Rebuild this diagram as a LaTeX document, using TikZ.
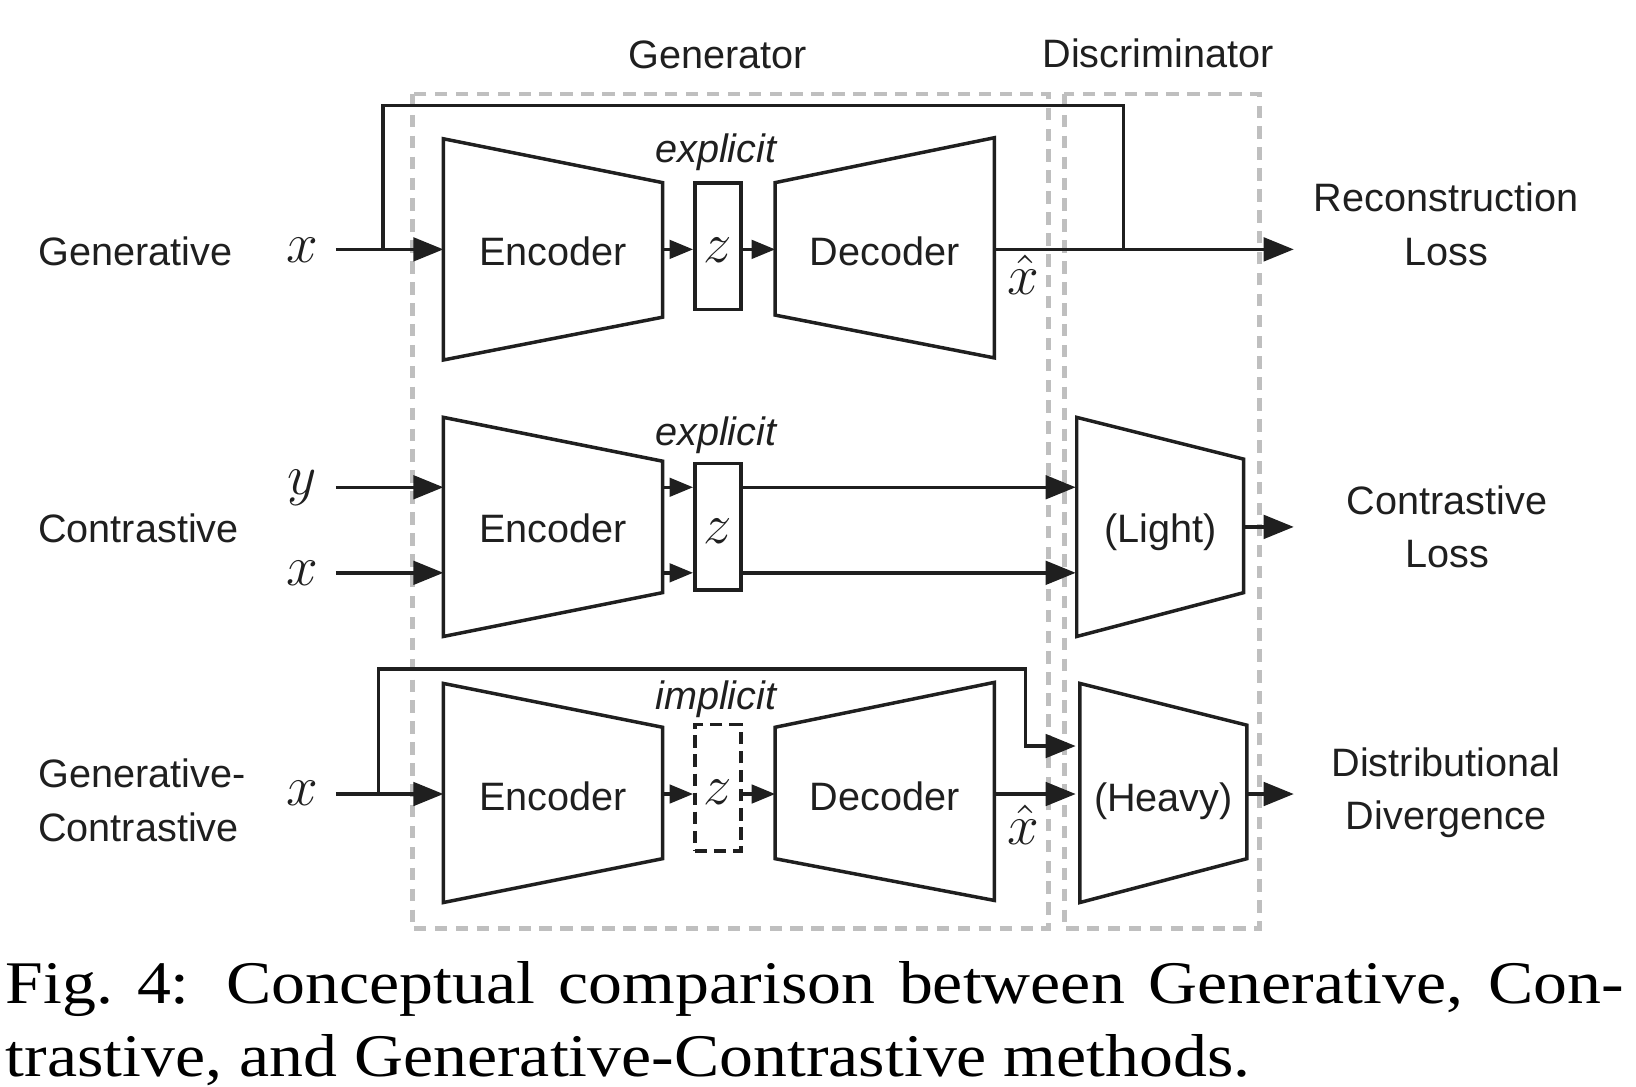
\RequirePackage{fix-cm}
\documentclass[tikz,border=0pt]{standalone}
\usepackage{fontspec}
\setmainfont{Liberation Sans}
\newfontfamily\capfont[FakeStretch=1.12]{Liberation Serif}
\usetikzlibrary{arrows.meta}
\begin{document}
\begin{tikzpicture}[x=0.01cm,y=-0.01cm,
  ln/.style={line width=0.95pt, draw=black!88, line join=miter},
  arr/.style={ln, -{Triangle[length=8.2pt,width=6.4pt]}},
  sarr/.style={ln, -{Triangle[length=6.4pt,width=5pt]}},
  grp/.style={draw=black!25, line width=1.3pt, dash pattern=on 3.4pt off 2.3pt},
  txt/.style={inner sep=0pt, text=black!88, font=\fontsize{10.8}{14.5}\selectfont},
  itx/.style={inner sep=0pt, text=black!88, font=\fontsize{10.8}{14.5}\selectfont\itshape},
  mth/.style={inner sep=0pt, text=black!88, font=\fontsize{15.5}{18}\selectfont},
  zbox/.style={ln, minimum width=0.44cm, minimum height=1.21cm, inner sep=0pt,
    text height=9pt, text depth=0pt, text=black!88, font=\fontsize{15.5}{18}\selectfont},
  zdash/.style={zbox, dash pattern=on 3.4pt off 1.8pt},
]
\useasboundingbox (0,0) rectangle (1568,1041);

% group frames
\draw[grp] (395,90) rectangle (1005,890);
\draw[grp] (1020,90) rectangle (1207,890);
\node[txt, anchor=base] (tgen) at (688,66) {Generator};
\node[txt, anchor=base] (tdis) at (1110,65) {Discriminator};

% ---------- Row 1: Generative ----------
\node[txt, anchor=base west] (r1) at (36,254) {Generative};
\node[mth, anchor=base] (x1) at (290,252) {$x$};
\coordinate (s1) at (322,239);
\coordinate (j1) at (367,239);
\coordinate (e1i) at (425,239);
\coordinate (e1o) at (635,239);
\draw[ln] (425,133) -- (635,175) -- (635,304) -- (425,345) -- cycle;
\node[txt, anchor=base] (enc1) at (530,254) {Encoder};
\node[zbox, draw] (z1) at (688,236) {$z$};
\node[itx, anchor=base] (ex1) at (686,156) {explicit};
\coordinate (d1i) at (743,239);
\coordinate (d1o) at (953,239);
\draw[ln] (743,175) -- (953,132) -- (953,343) -- (743,302) -- cycle;
\node[txt, anchor=base] (dec1) at (848,254) {Decoder};
\node[mth, anchor=base] (xh1) at (981,282) {$\hat{x}$};
\coordinate (m1) at (1077,239);
\coordinate (t1) at (1240,239);
\node[txt, align=center] (o1) at (1386,215) {Reconstruction\\Loss};

\draw[arr] (s1) -- (e1i);
\draw[ln] (j1) |- (m1 |- 0,101) -- (m1);
\draw[sarr] (e1o) -- (e1o -| z1.west);
\draw[sarr] (z1.east |- d1i) -- (d1i);
\draw[arr] (d1o) -- (t1);

% ---------- Row 2: Contrastive ----------
\node[txt, anchor=base west] (r2) at (36,520) {Contrastive};
\node[mth, anchor=base] (y2) at (290,474) {$y$};
\node[mth, anchor=base] (x2) at (290,561) {$x$};
\coordinate (s2a) at (322,467);
\coordinate (e2ia) at (425,467);
\coordinate (s2b) at (322,549);
\coordinate (e2ib) at (425,549);
\coordinate (e2oa) at (635,467);
\coordinate (e2ob) at (635,549);
\draw[ln] (425,400) -- (635,442) -- (635,568) -- (425,610) -- cycle;
\node[txt, anchor=base] (enc2) at (530,520) {Encoder};
\node[zbox, draw] (z2) at (688,505) {$z$};
\node[itx, anchor=base] (ex2) at (686,427) {explicit};
\draw[ln] (1032,400) -- (1192,440) -- (1192,568) -- (1032,610) -- cycle;
\node[txt, anchor=base] (light) at (1112,520) {(Light)};
\coordinate (l2a) at (1031,467);
\coordinate (l2b) at (1031,549);
\coordinate (l2o) at (1192,505);
\coordinate (t2) at (1240,505);
\node[txt, align=center] (o2) at (1387,505) {Contrastive\\Loss};

\draw[arr] (s2a) -- (e2ia);
\draw[arr] (s2b) -- (e2ib);
\draw[sarr] (e2oa) -- (e2oa -| z2.west);
\draw[sarr] (e2ob) -- (e2ob -| z2.west);
\draw[arr] (z2.east |- l2a) -- (l2a);
\draw[arr] (z2.east |- l2b) -- (l2b);
\draw[arr] (l2o) -- (t2);

% ---------- Row 3: Generative-Contrastive ----------
\node[txt, align=left, anchor=west] (r3) at (36,767) {Generative-\\Contrastive};
\node[mth, anchor=base] (x3) at (290,772) {$x$};
\coordinate (s3) at (322,761);
\coordinate (j3) at (363,761);
\coordinate (e3i) at (425,761);
\coordinate (e3o) at (635,761);
\draw[ln] (425,655) -- (635,697) -- (635,823) -- (425,865) -- cycle;
\node[txt, anchor=base] (enc3) at (530,777) {Encoder};
\node[zdash, draw] (z3) at (688,755) {$z$};
\node[itx, anchor=base] (im3) at (686,680) {implicit};
\coordinate (d3i) at (743,761);
\coordinate (d3o) at (953,761);
\draw[ln] (743,697) -- (953,654) -- (953,863) -- (743,823) -- cycle;
\node[txt, anchor=base] (dec3) at (848,777) {Decoder};
\node[mth, anchor=base] (xh3) at (981,809) {$\hat{x}$};
\draw[ln] (1035,655) -- (1195,695) -- (1195,823) -- (1035,865) -- cycle;
\node[txt, anchor=base] (heavy) at (1115,778) {(Heavy)};
\coordinate (h3a) at (1031,715);
\coordinate (h3b) at (1031,761);
\coordinate (h3o) at (1195,761);
\coordinate (t3) at (1240,761);
\coordinate (k3) at (983,641);
\node[txt, align=center] (o3) at (1386,760) {Distributional\\Divergence};

\draw[arr] (s3) -- (e3i);
\draw[arr] (j3) |- (k3) |- (h3a);
\draw[sarr] (e3o) -- (e3o -| z3.west);
\draw[sarr] (z3.east |- d3i) -- (d3i);
\draw[arr] (d3o) -- (h3b);
\draw[arr] (h3o) -- (t3);

% ---------- caption ----------
\node[anchor=base west, inner sep=0pt, text width=15.5cm, align=justify,
      font=\capfont\fontsize{16.5}{19.9}\selectfont] (cap) at (5,962)
  {\hyphenpenalty=10000 Fig.\ 4: Conceptual comparison between Generative, Con-\linebreak trastive, and Generative-Contrastive methods.};
\end{tikzpicture}
\end{document}
